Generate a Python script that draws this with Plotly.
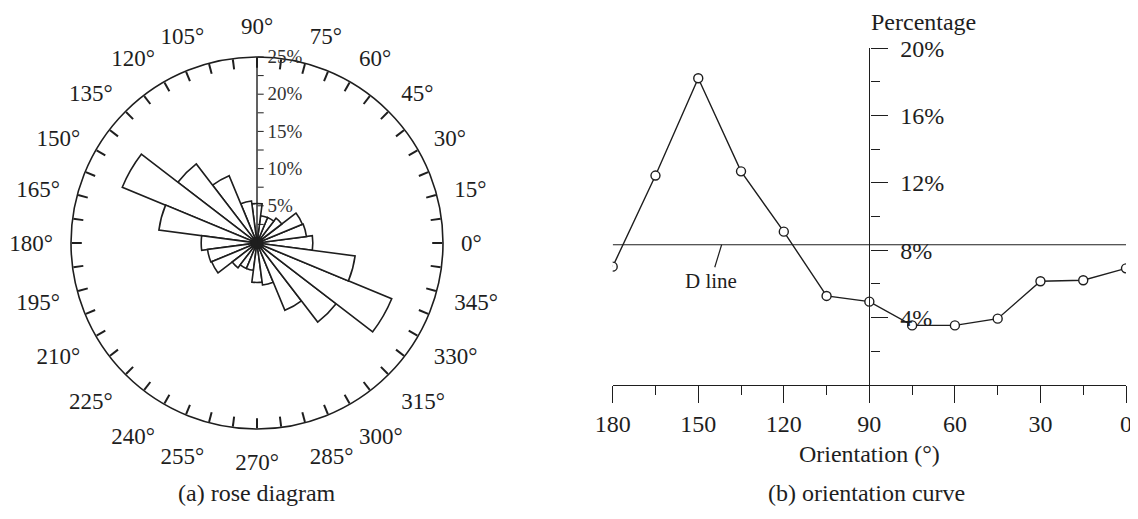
import plotly.graph_objects as go

# ---------------- data ----------------
# (a) rose diagram: percentage per 15° class (0..165), mirrored for 180..345
rose_angles = [0, 15, 30, 45, 60, 75, 90, 105, 120, 135, 150, 165]
rose_values = [7.5, 6.7, 6.6, 4.2, 3.7, 3.7, 5.3, 5.7, 9.8, 13.4, 19.6, 13.3]

# (b) orientation curve
curve_orient = [180, 165, 150, 135, 120, 105, 90, 75, 60, 45, 30, 15, 0]
curve_pct = [7.03, 12.44, 18.22, 12.69, 9.11, 5.29, 4.95, 3.54, 3.54, 3.94, 6.16, 6.22, 6.93]
d_line = 8.33

rose_ticks = [0, 15, 30, 45, 60, 75, 90, 105, 120, 135, 150, 165,
              180, 195, 210, 225, 240, 255, 270, 285, 300, 315, 330, 345]
radial_ticks = [2.5, 5, 7.5, 10, 12.5, 15, 17.5, 20, 22.5, 25]
curve_xticks = [180, 150, 120, 90, 60, 30, 0]
curve_yticks = [4, 8, 12, 16, 20]

FONT = "Liberation Serif"
INK = "#1e1e1e"

# the page body has an 8px margin: the figure starts 8px right / down in the window
OFF = 8
W, H = 1138, 519


def px(x):
    return (x - OFF) / W


def py(y):
    return (H + OFF - y) / H


theta_full = rose_angles + [a + 180 for a in rose_angles]
r_full = rose_values + rose_values

fig = go.Figure()

fig.add_trace(go.Barpolar(
    r=r_full, theta=theta_full, width=[15] * len(theta_full),
    marker=dict(color="white", line=dict(color=INK, width=1.6)),
    subplot="polar", showlegend=False, hoverinfo="skip",
))
# dark hub where all the petals meet
fig.add_trace(go.Scatterpolar(
    r=[0], theta=[0], mode="markers",
    marker=dict(size=12, color=INK), subplot="polar",
    showlegend=False, hoverinfo="skip",
))
# invisible trace so the label-only polar subplot is drawn
fig.add_trace(go.Scatterpolar(
    r=r_full, theta=theta_full, mode="markers",
    marker=dict(size=1, opacity=0), subplot="polar2",
    showlegend=False, hoverinfo="skip",
))

fig.add_trace(go.Scatter(
    x=curve_orient, y=curve_pct, mode="lines+markers",
    line=dict(color=INK, width=1.4),
    marker=dict(symbol="circle", size=9, color="white", line=dict(color=INK, width=1.4)),
    xaxis="x", yaxis="y", showlegend=False, cliponaxis=True,
))

fig.add_trace(go.Scatter(
    x=[curve_xticks[0], curve_xticks[-1]], y=[d_line, d_line], mode="lines",
    line=dict(color=INK, width=1.2), showlegend=False, hoverinfo="skip",
))

pdx = [px(70), px(444)]
pdy = [py(429), py(57)]

angular_minor = [i * 7.5 for i in range(48)]

fig.update_layout(
    width=W, height=H,
    margin=dict(l=0, r=0, t=0, b=0, autoexpand=False),
    paper_bgcolor="white", plot_bgcolor="white",
    font=dict(family=FONT, color=INK, size=24),
    polar=dict(
        domain=dict(x=pdx, y=pdy),
        bgcolor="white",
        angularaxis=dict(
            rotation=0, direction="counterclockwise",
            showgrid=False, showline=True, linecolor=INK, linewidth=1.6,
            tickmode="array", tickvals=angular_minor,
            ticks="inside", ticklen=10, tickwidth=1.6, tickcolor=INK,
            showticklabels=False,
        ),
        radialaxis=dict(
            range=[0, 25], angle=90, side="clockwise",
            showgrid=False, showline=True, linecolor=INK, linewidth=1.4,
            tickmode="array", tickvals=radial_ticks,
            ticktext=["" if v % 5 else f"{int(v)}%" for v in radial_ticks],
            ticks="outside", ticklen=6, tickwidth=1.3, tickcolor=INK,
            tickangle=90, tickfont=dict(size=19, family=FONT, color="#333"),
        ),
    ),
    polar2=dict(
        domain=dict(x=pdx, y=pdy),
        bgcolor="rgba(0,0,0,0)",
        angularaxis=dict(
            rotation=0, direction="counterclockwise",
            showgrid=False, showline=False,
            tickmode="array", tickvals=rose_ticks,
            ticktext=[f"{t}°" for t in rose_ticks],
            ticks="outside", ticklen=13, tickcolor="rgba(0,0,0,0)",
            tickfont=dict(size=23, family=FONT, color=INK),
        ),
        radialaxis=dict(visible=False, range=[0, 25]),
    ),
)

xd = [px(612.7), px(1126)]
yd = [py(385), py(48.3)]
ypos = xd[0] + (curve_xticks[0] - 90) / (curve_xticks[0] - curve_xticks[-1]) * (xd[1] - xd[0])

fig.update_layout(
    xaxis=dict(
        domain=xd, range=[curve_xticks[0], curve_xticks[-1]], automargin=False,
        showline=True, linecolor=INK, linewidth=1.4, showgrid=False, zeroline=False,
        tickmode="array", tickvals=curve_xticks, ticks="outside", ticklen=17,
        tickwidth=1.4, tickcolor=INK,
        minor=dict(dtick=15, ticks="outside", ticklen=9, tickwidth=1.4, tickcolor=INK, showgrid=False),
        tickfont=dict(size=24, family=FONT, color=INK),
        title=dict(text="Orientation (°)", font=dict(size=24, family=FONT, color=INK), standoff=9),
        anchor="y",
    ),
    yaxis=dict(
        domain=yd, range=[0, 20], anchor="free", position=ypos, side="right", automargin=False,
        showline=True, linecolor=INK, linewidth=1.4, showgrid=False, zeroline=False,
        tickmode="array", tickvals=curve_yticks, ticktext=[f"{v}%" for v in curve_yticks],
        ticks="outside", ticklen=17, tickwidth=1.4, tickcolor=INK, ticklabelstandoff=8,
        minor=dict(dtick=2, ticks="outside", ticklen=9, tickwidth=1.4, tickcolor=INK, showgrid=False),
        tickfont=dict(size=24, family=FONT, color=INK),
    ),
)

fig.add_annotation(
    text="Percentage", xref="paper", yref="paper",
    x=ypos, y=py(22), xanchor="left", yanchor="middle",
    showarrow=False, font=dict(size=24, family=FONT, color=INK),
)
fig.add_annotation(
    text="D line", x=141.8, y=d_line, xref="x", yref="y",
    showarrow=True, arrowhead=0, arrowwidth=1.2, arrowcolor=INK,
    ax=-11, ay=36, standoff=0, font=dict(size=21, family=FONT, color=INK),
)
fig.add_annotation(
    text="(a) rose diagram", xref="paper", yref="paper",
    x=px(257), y=py(493), xanchor="center", yanchor="middle",
    showarrow=False, font=dict(size=24, family=FONT, color=INK),
)
fig.add_annotation(
    text="(b) orientation curve", xref="paper", yref="paper",
    x=px(866), y=py(493), xanchor="center", yanchor="middle",
    showarrow=False, font=dict(size=24, family=FONT, color=INK),
)

fig.write_html("out.html")
